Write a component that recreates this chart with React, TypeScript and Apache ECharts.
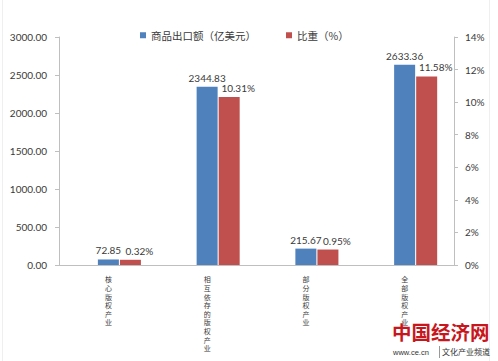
import React, { useEffect, useRef } from "react";
import * as echarts from "echarts";

const categories = ["核心版权产业", "相互依存的版权产业", "部分版权产业", "全部版权产业"];
const exportValues = [72.85, 2344.83, 215.67, 2633.36];
const shareValues = [0.32, 10.31, 0.95, 11.58];
const emptySlot = [null, null, null, null];
const leftTicks = { min: 0, max: 3000, interval: 500 };
const rightTicks = { min: 0, max: 14, interval: 2 };
const seriesNames = ["商品出口额（亿美元）", "比重（%）"];

const NUM_FONT = "Lato, 'Noto Sans', sans-serif";
const CJK_FONT = "'Noto Sans CJK SC', sans-serif";
const AXIS_COLOR = "#bfbfbf";
const TEXT_COLOR = "#3a3a3a";

export default function App() {
  const ref = useRef<HTMLDivElement>(null);
  useEffect(() => {
    document.body.style.margin = "0";
    const chart = echarts.init(ref.current!, null, { renderer: "svg" });
    chart.setOption({
      animation: false,
      backgroundColor: "#ffffff",
      legend: {
        data: seriesNames,
        left: 140,
        top: 30,
        padding: 0,
        itemWidth: 6,
        itemHeight: 6,
        itemGap: 30,
        icon: "rect",
        textStyle: { fontFamily: CJK_FONT, fontSize: 10.5, color: TEXT_COLOR },
      },
      grid: { left: 59, right: 44, top: 37, bottom: 96 },
      xAxis: {
        type: "category",
        data: categories,
        axisLine: { lineStyle: { color: AXIS_COLOR } },
        axisTick: { length: 4, lineStyle: { color: AXIS_COLOR } },
        axisLabel: {
          interval: 0,
          margin: 10,
          fontFamily: CJK_FONT,
          fontSize: 7,
          lineHeight: 8.6,
          color: TEXT_COLOR,
          formatter: (v: string) => v.split("").join("\n"),
        },
      },
      yAxis: [
        {
          type: "value",
          ...leftTicks,
          splitLine: { show: false },
          axisLine: { show: true, lineStyle: { color: AXIS_COLOR } },
          axisTick: { show: true, length: 4, lineStyle: { color: AXIS_COLOR } },
          axisLabel: {
            margin: 12,
            fontFamily: NUM_FONT,
            fontSize: 10,
            color: TEXT_COLOR,
            formatter: (v: number) => v.toFixed(2),
          },
        },
        {
          type: "value",
          position: "right",
          ...rightTicks,
          splitLine: { show: false },
          axisLine: { show: true, lineStyle: { color: AXIS_COLOR } },
          axisTick: { show: true, length: 4, lineStyle: { color: AXIS_COLOR } },
          axisLabel: {
            margin: 11,
            fontFamily: NUM_FONT,
            fontSize: 10,
            color: TEXT_COLOR,
            formatter: (v: number) => `${v}%`,
          },
        },
      ],
      series: [
        {
          name: "_slot",
          type: "bar",
          data: emptySlot,
          barWidth: 21,
          barGap: "5%",
          silent: true,
        },
        {
          name: seriesNames[0],
          type: "bar",
          yAxisIndex: 0,
          data: exportValues,
          barWidth: 21,
          barGap: "5%",
          itemStyle: { color: "#4f81bd" },
          label: {
            show: true,
            position: "top",
            distance: 4,
            fontFamily: NUM_FONT,
            fontSize: 10,
            color: TEXT_COLOR,
            formatter: (p: any) => p.value.toFixed(2),
          },
        },
        {
          name: seriesNames[1],
          type: "bar",
          yAxisIndex: 1,
          data: shareValues,
          barWidth: 21,
          barGap: "5%",
          itemStyle: { color: "#c0504d" },
          label: {
            show: true,
            position: "top",
            distance: 4,
            offset: [9, 0],
            fontFamily: NUM_FONT,
            fontSize: 10,
            color: TEXT_COLOR,
            formatter: (p: any) => `${p.value.toFixed(2)}%`,
          },
        },
      ],
      graphic: [
        {
          type: "line",
          z: 100,
          shape: { x1: 2.5, y1: 0, x2: 2.5, y2: 361 },
          style: { stroke: "#efefef", lineWidth: 1 },
        },
        {
          type: "line",
          z: 100,
          shape: { x1: 489.5, y1: 0, x2: 489.5, y2: 361 },
          style: { stroke: "#efefef", lineWidth: 1 },
        },
        {
          type: "text",
          z: 100,
          x: 392,
          y: 322,
          style: {
            text: "中国经济网",
            fontFamily: CJK_FONT,
            fontWeight: "bold",
            fontSize: 19.5,
            fill: "#c8161d",
          },
        },
        {
          type: "text",
          z: 100,
          x: 393,
          y: 348,
          style: { text: "www.ce.cn", fontFamily: "'Liberation Sans', sans-serif", fontSize: 7.5, fill: "#333" },
        },
        {
          type: "line",
          z: 100,
          shape: { x1: 439.5, y1: 346, x2: 439.5, y2: 358 },
          style: { stroke: "#999", lineWidth: 1 },
        },
        {
          type: "text",
          z: 100,
          x: 442,
          y: 347,
          style: { text: "文化产业频道", fontFamily: CJK_FONT, fontSize: 8, fill: "#333" },
        },
      ],
    });
    return () => chart.dispose();
  }, []);
  return <div ref={ref} style={{ width: 498, height: 361 }} />;
}
